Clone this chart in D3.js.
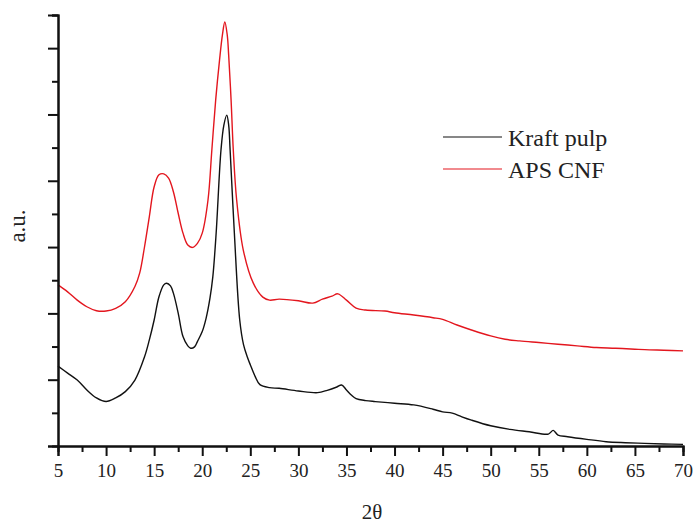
<!DOCTYPE html>
<html>
<head>
<meta charset="utf-8">
<script src="https://cdn.jsdelivr.net/npm/d3@7"></script>
<style>
  html, body { margin: 0; padding: 0; background: #fff; }
  svg { display: block; }
  text { font-family: "Liberation Serif", "Times New Roman", serif; fill: #222; }
</style>
</head>
<body>
<svg id="chart" width="695" height="526"></svg>
<script>
// 2θ positions and intensities (a.u.)
const kraftTheta = [5,6,7,8,9,10,11,12,13,14,14.5,15,15.5,16,16.3,16.7,17,17.5,18,18.5,18.8,19.2,19.5,20,20.4,20.8,21.1,21.45,21.95,22.25,22.55,22.75,22.9,23.34,23.9,24.3,24.7,25,25.5,26,27,28,30,32,33,34,34.5,35,35.5,36,37,38,40,42,44,45,46,47,48,50,52,54,56,56.5,57,58,60,62,64,66,68,70];
const kraftValues = [2.41,2.20,1.99,1.69,1.45,1.34,1.45,1.64,1.99,2.69,3.20,3.80,4.50,4.86,4.91,4.83,4.61,4.01,3.30,3.02,2.95,2.99,3.15,3.45,3.85,4.45,5.10,6.43,8.93,9.68,9.98,9.68,8.93,6.43,3.80,3.05,2.68,2.45,2.10,1.85,1.76,1.74,1.66,1.61,1.68,1.78,1.84,1.69,1.54,1.43,1.37,1.34,1.29,1.24,1.11,1.03,0.99,0.88,0.78,0.61,0.50,0.43,0.36,0.47,0.33,0.28,0.20,0.13,0.10,0.08,0.06,0.05];

const cnfTheta = [5,6,7,8,9,10,11,12,13,13.5,14,14.5,15,15.5,16,16.5,17,17.5,18,18.5,19,19.5,20,20.6,21,21.4,21.8,22.1,22.35,22.6,22.75,23,23.23,23.58,24.27,25.3,26.3,27,28,30,31.5,32.5,33.5,34.1,35,36,37,39,40,42,44,45,46.5,48,50,51.5,53,55,57,59,61,63,65,66.5,68,70];
const cnfValues = [4.86,4.65,4.40,4.20,4.08,4.07,4.15,4.35,4.81,5.22,6.01,6.92,7.82,8.18,8.21,8.08,7.67,7.02,6.42,6.06,5.99,6.11,6.42,7.42,8.93,10.44,11.64,12.40,12.79,12.40,11.79,10.44,8.93,7.42,5.91,4.92,4.49,4.40,4.43,4.38,4.31,4.43,4.52,4.59,4.40,4.16,4.10,4.07,4.02,3.95,3.87,3.82,3.65,3.50,3.32,3.22,3.17,3.12,3.07,3.02,2.97,2.95,2.92,2.90,2.89,2.87];

const seriesNames = ["Kraft pulp", "APS CNF"];
const seriesColors = ["#111111", "#e3161e"];

const xMajorTicks = [5,10,15,20,25,30,35,40,45,50,55,60,65,70];
const xMinorTicks = [7.5,12.5,17.5,22.5,27.5,32.5,37.5,42.5,47.5,52.5,57.5,62.5,67.5];
const yMajorTicks = [0,2,4,6,8,10,12];
const yMinorTicks = [1,3,5,7,9,11,13];

const xLabel = "2θ";
const yLabel = "a.u.";

const svg = d3.select("#chart");
const x = d3.scaleLinear().domain([5, 70]).range([58, 683]);
const y = d3.scaleLinear().domain([0, 13]).range([446, 15]);

const line = d3.line()
  .x(d => x(d[0]))
  .y(d => y(d[1]))
  .curve(d3.curveCatmullRom.alpha(0.5));

const series = [
  d3.zip(kraftTheta, kraftValues),
  d3.zip(cnfTheta, cnfValues)
];

// curves: draw red (CNF) first, then black
[1, 0].forEach(i => {
  svg.append("path")
    .datum(series[i])
    .attr("fill", "none")
    .attr("stroke", seriesColors[i])
    .attr("stroke-width", 1.4)
    .attr("stroke-linejoin", "round")
    .attr("d", line);
});

// axes
const xMinorAxis = d3.axisBottom(x).tickValues(xMinorTicks).tickSize(6).tickFormat("");
const xMajorAxis = d3.axisBottom(x).tickValues(xMajorTicks).tickSize(10).tickPadding(8).tickFormat(d3.format("d"));
const yMinorAxis = d3.axisLeft(y).tickValues(yMinorTicks).tickSize(6).tickFormat("");
const yMajorAxis = d3.axisLeft(y).tickValues(yMajorTicks).tickSize(10).tickFormat("");

function styleAxis(g) {
  g.selectAll("path").attr("stroke", "#111").attr("stroke-width", 2);
  g.selectAll("line").attr("stroke", "#111").attr("stroke-width", 2);
  g.selectAll("text").style("font-size", "19px").attr("fill", "#333")
    .style("font-family", "'Liberation Serif', serif");
}

svg.append("g").attr("transform", "translate(0,446)").call(xMinorAxis).call(styleAxis);
svg.append("g").attr("transform", "translate(0,446)").call(xMajorAxis).call(styleAxis);
svg.append("g").attr("transform", "translate(58,0)").call(yMinorAxis).call(styleAxis);
svg.append("g").attr("transform", "translate(58,0)").call(yMajorAxis).call(styleAxis);

// axis labels
svg.append("text")
  .attr("x", 372).attr("y", 519)
  .attr("text-anchor", "middle")
  .style("font-size", "21px")
  .text(xLabel);

svg.append("text")
  .attr("transform", "translate(25,226) rotate(-90)")
  .attr("text-anchor", "middle")
  .style("font-size", "23px")
  .text(yLabel);

// legend
const legendY = [137, 169];
seriesNames.forEach((name, i) => {
  svg.append("line")
    .attr("x1", 443).attr("x2", 502)
    .attr("y1", legendY[i]).attr("y2", legendY[i])
    .attr("stroke", seriesColors[i])
    .attr("stroke-width", 1.2);
  svg.append("text")
    .attr("x", 508).attr("y", legendY[i] + 8.5)
    .style("font-size", "24px")
    .attr("fill", "#111")
    .text(name);
});
</script>
</body>
</html>
